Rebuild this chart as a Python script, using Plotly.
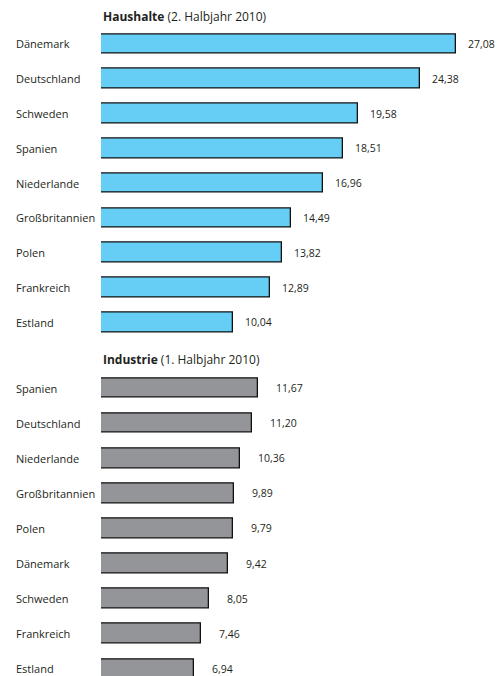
import plotly.graph_objects as go

# Strompreise in Cent/kWh
haushalte_laender = ["Dänemark", "Deutschland", "Schweden", "Spanien", "Niederlande",
                     "Großbritannien", "Polen", "Frankreich", "Estland"]
haushalte_werte = [27.08, 24.38, 19.58, 18.51, 16.96, 14.49, 13.82, 12.89, 10.04]

industrie_laender = ["Spanien", "Deutschland", "Niederlande", "Großbritannien", "Polen",
                     "Dänemark", "Schweden", "Frankreich", "Estland"]
industrie_werte = [11.67, 11.20, 10.36, 9.89, 9.79, 9.42, 8.05, 7.46, 6.94]

titel_haushalte = "<b>Haushalte</b> (2. Halbjahr 2010)"
titel_industrie = "<b>Industrie</b> (1. Halbjahr 2010)"

W, H = 499, 676
FONT = "Open Sans"
TEXT = "#231f20"
BLUE = "#66cdf4"
GREY = "#949598"


def de(v):
    return f"{v:.2f}".replace(".", ",")


fig = go.Figure()

fig.add_trace(go.Bar(
    y=haushalte_laender, x=haushalte_werte, orientation="h",
    xaxis="x", yaxis="y", width=0.56,
    marker=dict(color=BLUE, line=dict(color="#111111", width=1.3)),
    hoverinfo="skip", showlegend=False,
))
fig.add_trace(go.Bar(
    y=industrie_laender, x=industrie_werte, orientation="h",
    xaxis="x2", yaxis="y2", width=0.56,
    marker=dict(color=GREY, line=dict(color="#111111", width=1.3)),
    hoverinfo="skip", showlegend=False,
))

annotations = []
for laender, werte, xr, yr, shift in [
    (haushalte_laender, haushalte_werte, "x", "y", 10),
    (industrie_laender, industrie_werte, "x2", "y2", 16),
]:
    for land, wert in zip(laender, werte):
        annotations.append(dict(
            x=0, y=land, xref="paper", yref=yr, xshift=14 - 0,
            text=land, showarrow=False, xanchor="left", yanchor="middle",
            font=dict(family=FONT, size=11, color=TEXT),
        ))
        annotations.append(dict(
            x=wert, y=land, xref=xr, yref=yr, xshift=shift,
            text=de(wert), showarrow=False, xanchor="left", yanchor="middle",
            font=dict(family=FONT, size=10.5, color=TEXT),
        ))

for titel, ypx in [(titel_haushalte, 17), (titel_industrie, 359)]:
    annotations.append(dict(
        x=101 / W, y=1 - ypx / H, xref="paper", yref="paper",
        text=titel, showarrow=False, xanchor="left", yanchor="middle",
        font=dict(family=FONT, size=12, color=TEXT),
    ))

x0 = 101 / W
hidden = dict(showgrid=False, zeroline=False, showticklabels=False, showline=False, ticks="")

# top panel: 9 rows, 34.8 px each, first row centred at y=44
top_top = 44 - 17.4
top_bot = top_top + 9 * 34.8
# bottom panel: 35.1 px per row, first row centred at y=388, clipped at the page edge
bot_top = 388 - 17.55
row2 = 35.1
bot_range_end = -0.5 + (H - bot_top) / row2

fig.update_layout(
    width=W, height=H,
    margin=dict(l=0, r=0, t=0, b=0),
    paper_bgcolor="white", plot_bgcolor="white",
    bargap=0,
    xaxis=dict(domain=[x0, 1], range=[0, (W - 101) / 13.1], anchor="y", **hidden),
    yaxis=dict(domain=[1 - top_bot / H, 1 - top_top / H], anchor="x",
               categoryorder="array", categoryarray=haushalte_laender,
               range=[8.5, -0.5], **hidden),
    xaxis2=dict(domain=[x0, 1], range=[0, (W - 101) / 13.45], anchor="y2", **hidden),
    yaxis2=dict(domain=[0, 1 - bot_top / H], anchor="x2",
                categoryorder="array", categoryarray=industrie_laender,
                range=[bot_range_end, -0.5], **hidden),
    annotations=annotations,
)

fig.write_html("out.html")
